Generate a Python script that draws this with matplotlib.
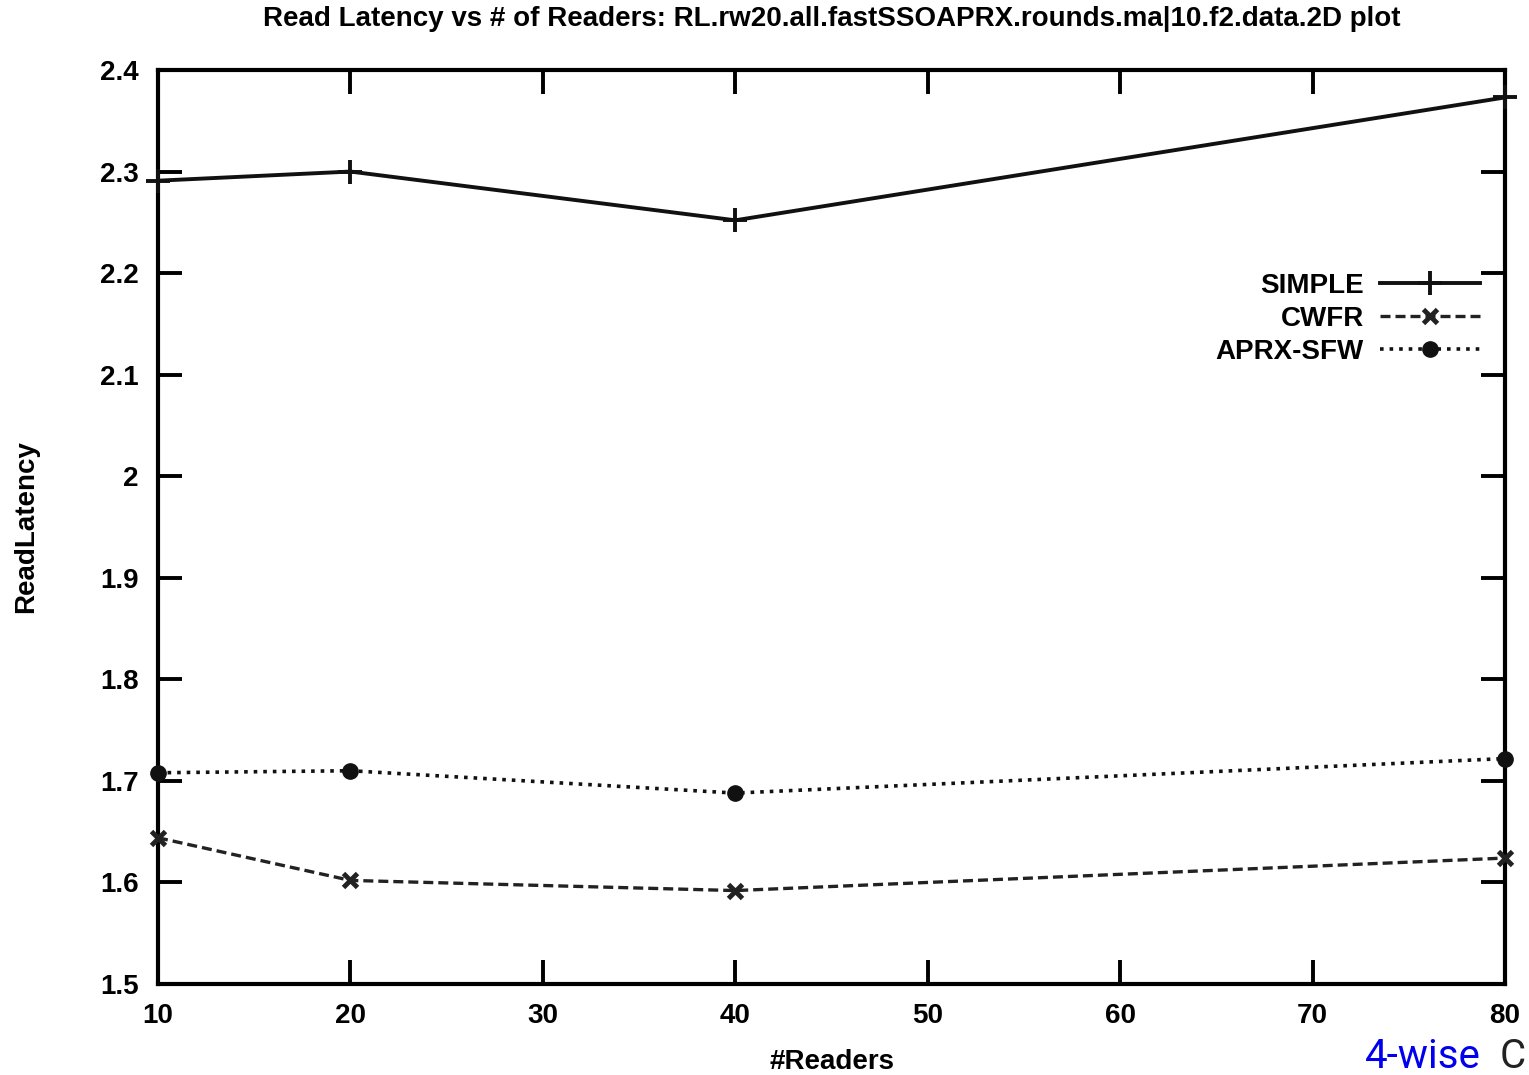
import matplotlib
matplotlib.use("Agg")
import matplotlib.pyplot as plt

# data
readers = [10, 20, 40, 80]
simple = [2.291, 2.300, 2.252, 2.373]
cwfr = [1.644, 1.602, 1.592, 1.624]
aprx_sfw = [1.708, 1.710, 1.688, 1.722]

x_ticks = [10, 20, 30, 40, 50, 60, 70, 80]
y_ticks = [1.5, 1.6, 1.7, 1.8, 1.9, 2.0, 2.1, 2.2, 2.3, 2.4]
y_tick_labels = ["1.5", "1.6", "1.7", "1.8", "1.9", "2", "2.1", "2.2", "2.3", "2.4"]

plt.rcParams["font.family"] = ["Liberation Sans", "DejaVu Sans"]
plt.rcParams["font.weight"] = "bold"

fig = plt.figure(figsize=(15.29, 10.75), dpi=100)
ax = fig.add_axes([158 / 1529, 1 - 984 / 1075, 1347 / 1529, 914 / 1075])

ax.plot(readers, simple, "-", color="#111111", lw=2.8, marker="+",
        ms=17, mew=2.8, label="SIMPLE", clip_on=False, zorder=3)
ax.plot(readers, cwfr, "--", color="#222222", lw=2.4, marker="x",
        ms=10, mew=3.5, label="CWFR", dashes=(3, 1.5), clip_on=False, zorder=3)
ax.plot(readers, aprx_sfw, ":", color="#111111", lw=2.6, marker="o",
        ms=11, label="APRX-SFW", clip_on=False, zorder=3)

ax.set_xlim(10, 80)
ax.set_ylim(1.5, 2.4)
ax.set_xticks(x_ticks)
ax.set_yticks(y_ticks)
ax.set_yticklabels(y_tick_labels)
ax.tick_params(direction="in", length=17, width=2.8, labelsize=20,
               top=True, right=True, pad=14)
for s in ax.spines.values():
    s.set_linewidth(3)

ax.set_title("Read Latency vs # of Readers: RL.rw20.all.fastSSOAPRX.rounds.ma|10.f2.data.2D plot",
             fontsize=20, fontweight="bold", pad=32)
ax.set_xlabel("#Readers", fontsize=20, fontweight="bold", labelpad=14)
ax.set_ylabel("ReadLatency", fontsize=20, fontweight="bold", labelpad=44)

leg = ax.legend(loc="upper right", bbox_to_anchor=(0.99, 0.79), frameon=False,
                markerfirst=False, fontsize=20, handlelength=3.6,
                labelspacing=0.25, borderaxespad=0, handletextpad=0.6)
for vp in leg._legend_handle_box.get_children():
    vp.align = "right"

# stray webpage text at the bottom-right corner
fig.text(1365 / 1529, 1 - 1068 / 1075, "4-wise", color="#0000ee",
         fontsize=29, family="Roboto", weight="normal", va="baseline")
fig.text(1500 / 1529, 1 - 1068 / 1075, "C", color="#222222",
         fontsize=29, family="Roboto", weight="normal", va="baseline")

fig.savefig("out.png", dpi=100)
